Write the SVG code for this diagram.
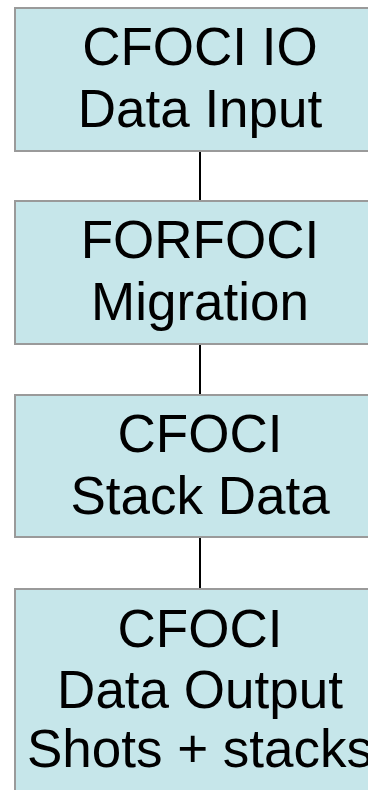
<svg xmlns="http://www.w3.org/2000/svg" width="368" height="790" viewBox="0 0 368 790">
  <style>
    .box { fill: #c6e6ea; stroke: #9a9a9a; stroke-width: 2; }
    .label { font-family: "Liberation Sans", Arial, sans-serif; font-size: 53px; fill: #000; text-anchor: middle; }
    .link { stroke: #000; stroke-width: 2; fill: none; }
  </style>
  <rect width="368" height="790" fill="#fff"/>
  <g id="connectors">
    <line class="link" x1="200" y1="151" x2="200" y2="201"/>
    <line class="link" x1="200" y1="344" x2="200" y2="395"/>
    <line class="link" x1="200" y1="537" x2="200" y2="589"/>
  </g>
  <g id="io-input">
    <rect class="box" x="15" y="8" width="370" height="143"/>
    <text class="label" x="200" y="65">CFOCI IO</text>
    <text class="label" x="200" y="127">Data Input</text>
  </g>
  <g id="migration">
    <rect class="box" x="15" y="201" width="370" height="143"/>
    <text class="label" x="200" y="258">FORFOCI</text>
    <text class="label" x="200" y="320">Migration</text>
  </g>
  <g id="stack-data">
    <rect class="box" x="15" y="395" width="370" height="142"/>
    <text class="label" x="200" y="452">CFOCI</text>
    <text class="label" x="200" y="514">Stack Data</text>
  </g>
  <g id="data-output">
    <rect class="box" x="15" y="589" width="370" height="220"/>
    <text class="label" x="200" y="647">CFOCI</text>
    <text class="label" x="200" y="708">Data Output</text>
    <text class="label" x="200" y="767">Shots + stacks</text>
  </g>
</svg>
